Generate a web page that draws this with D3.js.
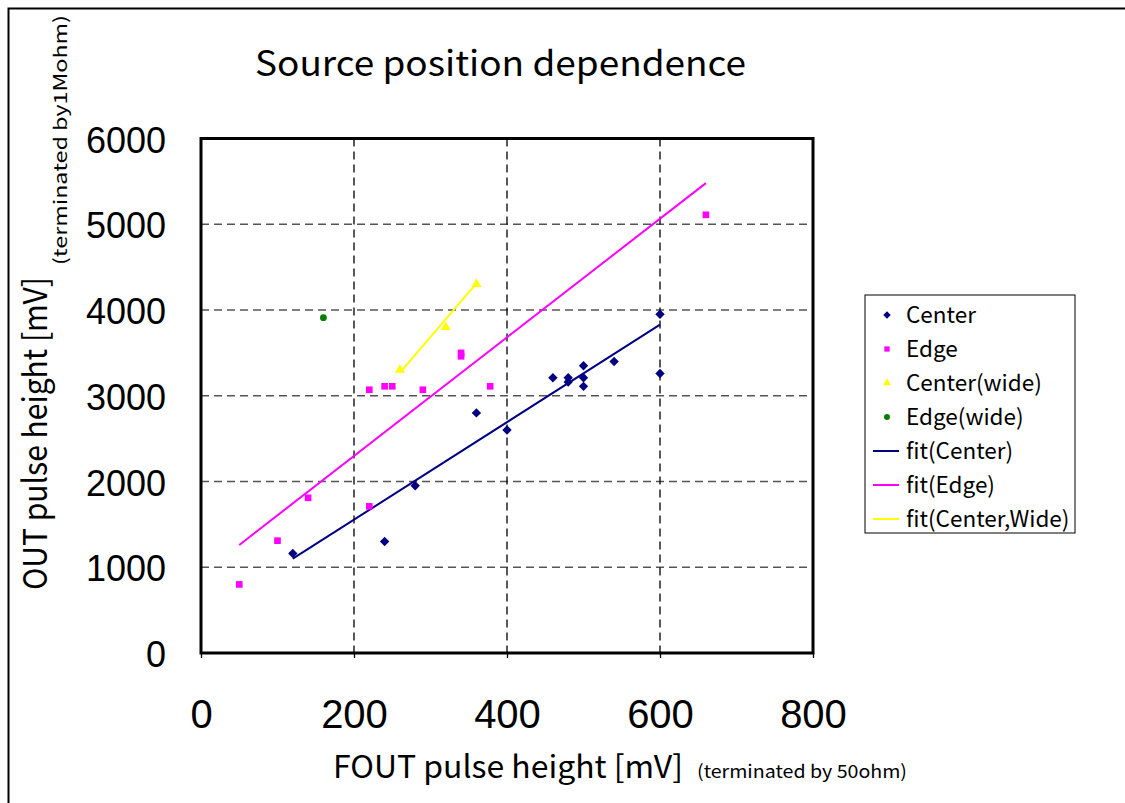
<!DOCTYPE html>
<html>
<head>
<meta charset="utf-8">
<script src="https://cdn.jsdelivr.net/npm/d3@7"></script>
<style>
  body { margin: 0; background: #fff; }
  svg { display: block; }
  .tick text { font-family: "Liberation Sans", Arial, sans-serif; }
  .jp { font-family: "Noto Sans CJK JP", "Noto Sans", sans-serif; }
</style>
</head>
<body>
<script>
const w = 1125;
const h = 803;

// data
const center = [[120, 1160], [240, 1300], [280, 1950], [360, 2800], [400, 2600],
  [460, 3210], [480, 3210], [480, 3160], [500, 3350], [500, 3210], [500, 3110],
  [540, 3400], [600, 3950], [600, 3260]];
const edge = [[50, 800], [100, 1310], [140, 1810], [220, 1710], [220, 3070],
  [240, 3110], [250, 3110], [290, 3070], [340, 3500], [340, 3460], [378, 3110],
  [660, 5110]];
const centerWide = [[260, 3300], [320, 3800], [360, 4300]];
const edgeWide = [[160, 3910]];
const fitCenter = [[120, 1100], [600, 3830]];
const fitEdge = [[50, 1260], [660, 5480]];
const fitCenterWide = [[260, 3270], [360, 4310]];

const xTicks = [0, 200, 400, 600, 800];
const yTicks = [0, 1000, 2000, 3000, 4000, 5000, 6000];

const legendItems = [
  { name: "Center", type: "diamond", color: "#000080" },
  { name: "Edge", type: "square", color: "#ff00ff" },
  { name: "Center(wide)", type: "triangle", color: "#ffff00" },
  { name: "Edge(wide)", type: "circle", color: "#008000" },
  { name: "fit(Center)", type: "line", color: "#000080" },
  { name: "fit(Edge)", type: "line", color: "#ff00ff" },
  { name: "fit(Center,Wide)", type: "line", color: "#ffff00" }
];

const plot = { left: 201, top: 138.5, right: 813, bottom: 653 };

const svg = d3.select("body").append("svg")
  .attr("width", w)
  .attr("height", h);

// outer frame (only top and left show)
svg.append("rect")
  .attr("x", 8.5).attr("y", 8.5)
  .attr("width", w + 20).attr("height", h + 20)
  .attr("fill", "#fff")
  .attr("stroke", "#000")
  .attr("stroke-width", 2);

const x = d3.scaleLinear().domain([0, 800]).range([plot.left, plot.right]);
const y = d3.scaleLinear().domain([0, 6000]).range([plot.bottom, plot.top]);

// grid
svg.append("g")
  .selectAll("line")
  .data(yTicks.slice(1, -1))
  .enter().append("line")
  .attr("x1", plot.left).attr("x2", plot.right)
  .attr("y1", d => y(d)).attr("y2", d => y(d))
  .attr("stroke", "#555")
  .attr("stroke-width", 1.3)
  .attr("stroke-dasharray", "8,5");

svg.append("g")
  .selectAll("line")
  .data(xTicks.slice(1, -1))
  .enter().append("line")
  .attr("x1", d => x(d)).attr("x2", d => x(d))
  .attr("y1", plot.top).attr("y2", plot.bottom)
  .attr("stroke", "#000")
  .attr("stroke-width", 1.3)
  .attr("stroke-dasharray", "8,5");

// axes
const xAxis = svg.append("g")
  .attr("transform", "translate(0," + plot.bottom + ")")
  .call(d3.axisBottom(x).tickValues(xTicks).tickSize(5).tickPadding(42).tickFormat(d3.format("d")));
xAxis.select(".domain").remove();
xAxis.selectAll("line").attr("stroke-width", 1.3);
xAxis.selectAll("text").style("font-size", "40px").attr("fill", "#000");

const yAxis = svg.append("g")
  .attr("transform", "translate(" + plot.left + ",0)")
  .call(d3.axisLeft(y).tickValues(yTicks).tickSize(0).tickPadding(35).tickFormat(d3.format("d")));
yAxis.select(".domain").remove();
yAxis.selectAll("text").style("font-size", "36px").attr("fill", "#000").attr("dy", "0.38em");

// plot frame
svg.append("rect")
  .attr("x", plot.left).attr("y", plot.top)
  .attr("width", plot.right - plot.left).attr("height", plot.bottom - plot.top)
  .attr("fill", "none")
  .attr("stroke", "#000")
  .attr("stroke-width", 3);

// fit lines
const line = d3.line().x(d => x(d[0])).y(d => y(d[1]));
[[fitCenter, "#000080"], [fitEdge, "#ff00ff"], [fitCenterWide, "#ffff00"]].forEach(function(f) {
  svg.append("path")
    .datum(f[0])
    .attr("d", line)
    .attr("fill", "none")
    .attr("stroke", f[1])
    .attr("stroke-width", 2);
});

// markers (diamond = square turned 45 degrees)
const symbolTypes = {
  diamond: d3.symbolSquare,
  square: d3.symbolSquare,
  triangle: d3.symbolTriangle,
  circle: d3.symbolCircle
};
const symbolSizes = { diamond: 44, square: 44, triangle: 42, circle: 36 };

function drawPoints(data, type, color) {
  svg.append("g")
    .selectAll("path")
    .data(data)
    .enter().append("path")
    .attr("transform", d => "translate(" + x(d[0]) + "," + y(d[1]) + ")" + (type === "diamond" ? " rotate(45)" : ""))
    .attr("d", d3.symbol().type(symbolTypes[type]).size(symbolSizes[type]))
    .attr("fill", color);
}
drawPoints(center, "diamond", "#000080");
drawPoints(edge, "square", "#ff00ff");
drawPoints(centerWide, "triangle", "#ffff00");
drawPoints(edgeWide, "circle", "#008000");

// title
svg.append("text")
  .attr("class", "jp")
  .attr("x", 255).attr("y", 76)
  .attr("textLength", 491)
  .attr("lengthAdjust", "spacingAndGlyphs")
  .style("font-size", "35px")
  .text("Source position dependence");

// x title
svg.append("text")
  .attr("class", "jp")
  .attr("x", 333).attr("y", 778)
  .attr("textLength", 350)
  .attr("lengthAdjust", "spacingAndGlyphs")
  .style("font-size", "31px")
  .text("FOUT pulse height [mV]");
svg.append("text")
  .attr("class", "jp")
  .attr("x", 697).attr("y", 778)
  .attr("textLength", 210)
  .attr("lengthAdjust", "spacingAndGlyphs")
  .style("font-size", "18px")
  .text("(terminated by 50ohm)");

// y title
svg.append("text")
  .attr("class", "jp")
  .attr("transform", "translate(47,590) rotate(-90)")
  .attr("textLength", 313)
  .attr("lengthAdjust", "spacingAndGlyphs")
  .style("font-size", "33px")
  .text("OUT pulse height [mV]");
svg.append("text")
  .attr("class", "jp")
  .attr("transform", "translate(67,265) rotate(-90)")
  .attr("textLength", 250)
  .attr("lengthAdjust", "spacingAndGlyphs")
  .style("font-size", "18px")
  .text("(terminated by1Mohm)");

// legend
const legend = svg.append("g").attr("transform", "translate(865,295)");
legend.append("rect")
  .attr("width", 210).attr("height", 238)
  .attr("fill", "#fff")
  .attr("stroke", "#000")
  .attr("stroke-width", 1);

const item = legend.selectAll("g.item")
  .data(legendItems)
  .enter().append("g")
  .attr("class", "item")
  .attr("transform", (d, i) => "translate(0," + (20 + i * 34) + ")");

item.filter(d => d.type !== "line").append("path")
  .attr("transform", d => "translate(22,0)" + (d.type === "diamond" ? " rotate(45)" : ""))
  .attr("d", d => d3.symbol().type(symbolTypes[d.type]).size(28)())
  .attr("fill", d => d.color);

item.filter(d => d.type === "line").append("line")
  .attr("x1", 8).attr("x2", 34)
  .attr("stroke", d => d.color)
  .attr("stroke-width", 2);

item.append("text")
  .attr("class", "jp")
  .attr("x", 41)
  .attr("dy", "0.35em")
  .style("font-size", "22.5px")
  .text(d => d.name);
</script>
</body>
</html>
